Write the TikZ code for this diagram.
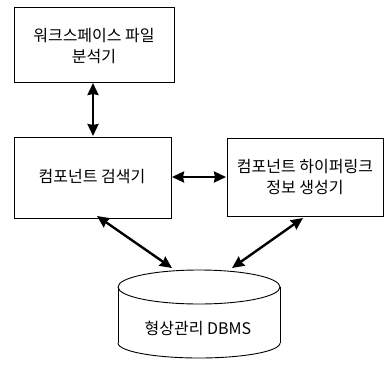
\documentclass[tikz,border=0pt]{standalone}
\usepackage{fontspec}
\setmainfont{Noto Sans CJK KR}
\usetikzlibrary{arrows.meta}
\begin{document}
\begin{tikzpicture}[x=1pt,y=-1pt,
  box/.style={draw,line width=0.9pt},
  label/.style={font=\fontsize{16}{21}\selectfont,align=center},
  link/.style={line width=2.4pt,{Stealth[length=12pt,width=11pt,inset=1pt]}-{Stealth[length=12pt,width=11pt,inset=1pt]}}]
\useasboundingbox (0,0) rectangle (385,372);
% boxes
\draw[box] (14,7) rectangle (174,82);
\node[label] (ws) at (94,46) {워크스페이스 파일\\분석기};
\draw[box] (14,137) rectangle (171,218);
\node[label] (cs) at (92,177) {컴포넌트 검색기};
\draw[box] (227,138) rectangle (383,216);
\node[label] (hl) at (305,177) {컴포넌트 하이퍼링크\\정보 생성기};
% cylinder: top ellipse, sides and front of the base
\draw[line width=0.9pt] (199,287) ellipse [x radius=81, y radius=17];
\draw[line width=0.9pt] (118,287) -- (118,343);
\draw[line width=0.9pt] (280,287) -- (280,343);
\draw[line width=0.9pt] plot[domain=180:360, samples=80] ({199+81*cos(\x)},{343-15*sin(\x)});
\node[label] (db) at (198,328) {형상관리 DBMS};
% connector ends
\coordinate (wsbot) at (93,83);
\coordinate (cstop) at (93,136);
\coordinate (csr) at (172,177);
\coordinate (hll) at (226,177);
\coordinate (csb) at (97,216);
\coordinate (dbl) at (172,268);
\coordinate (hlb) at (303,218);
\coordinate (dbr) at (232,268);
\draw[link] (wsbot) -- (cstop);
\draw[link] (csr) -- (hll);
\draw[link] (csb) -- (dbl);
\draw[link] (hlb) -- (dbr);
\end{tikzpicture}
\end{document}
